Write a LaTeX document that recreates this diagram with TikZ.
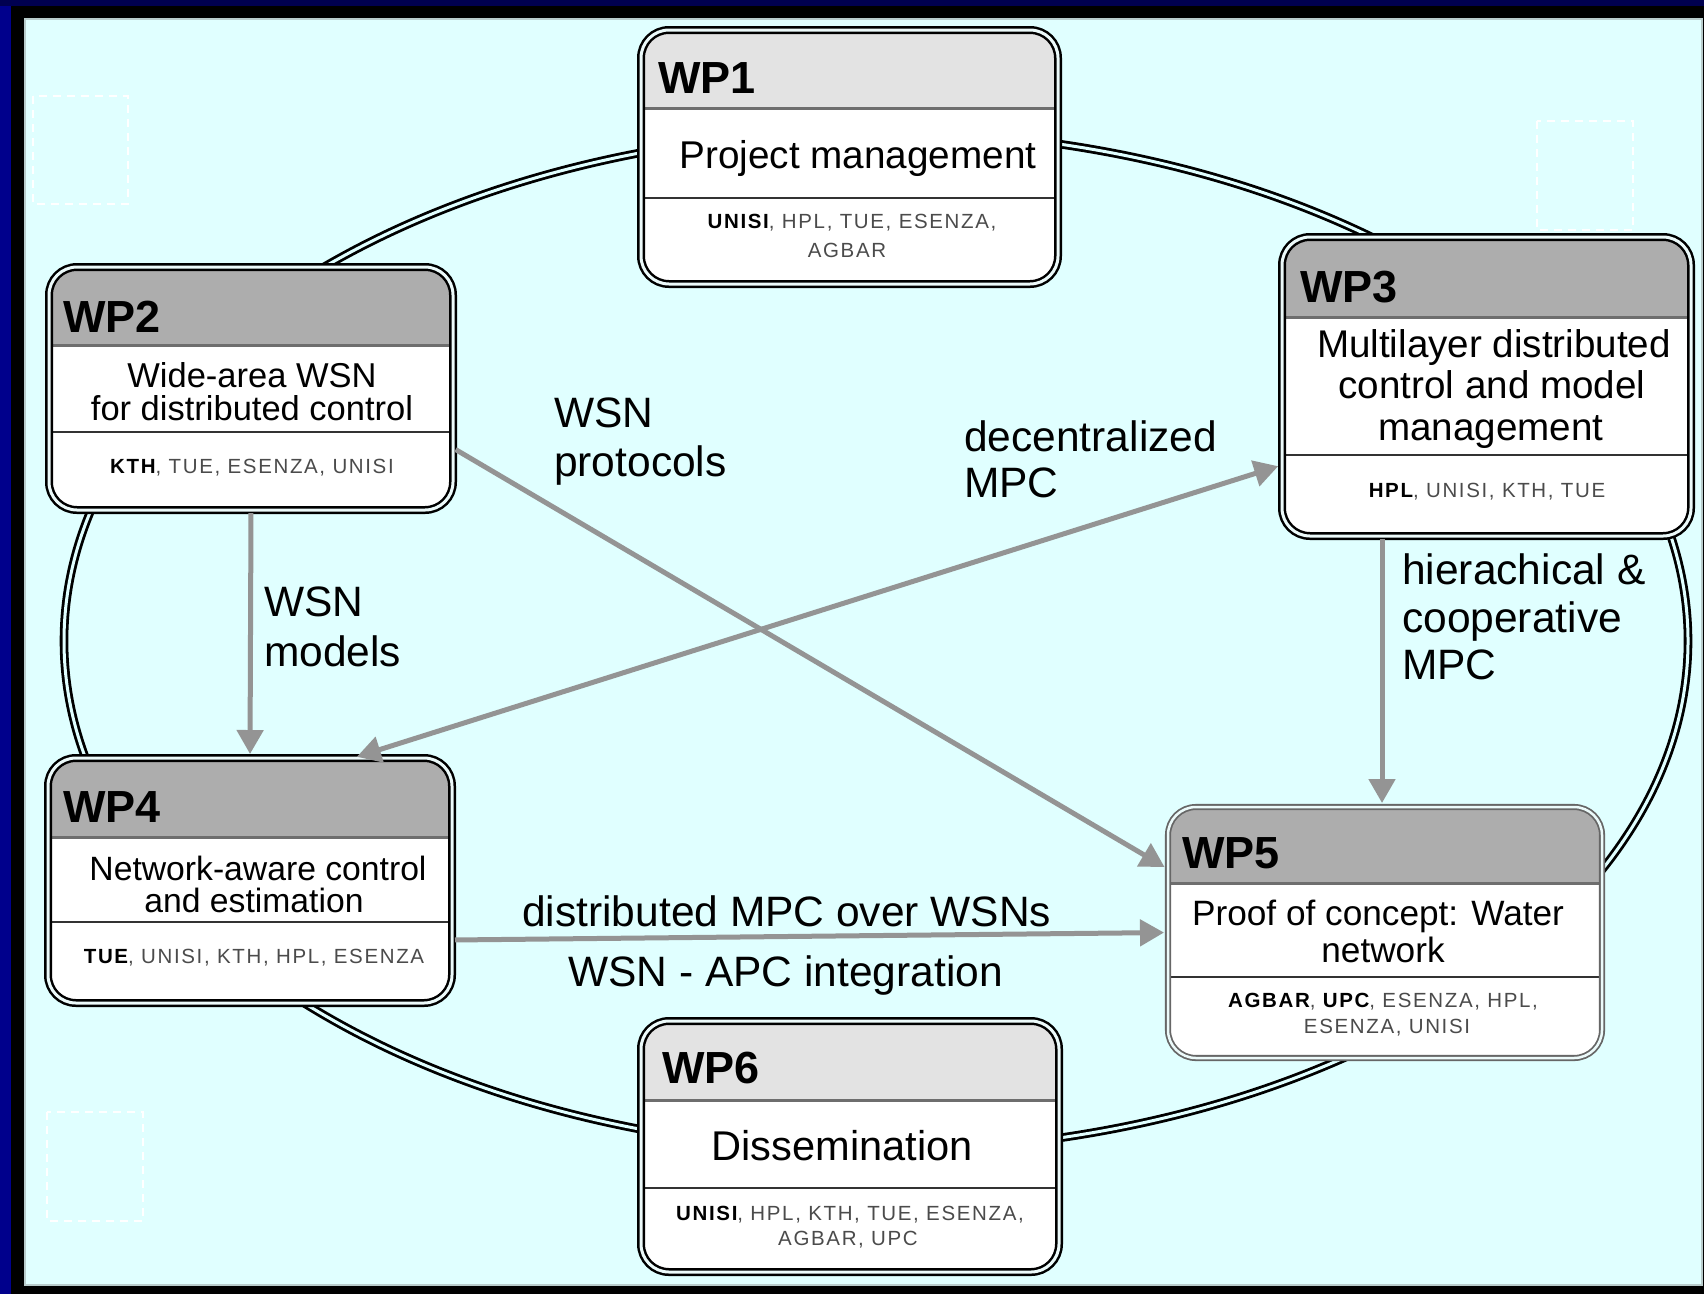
\documentclass[tikz,border=0pt]{standalone}
\usepackage{fontspec}
\setmainfont{Liberation Sans}
\newfontfamily\partfont[LetterSpace=8]{Liberation Sans}
\usetikzlibrary{arrows.meta}
\definecolor{navyA}{RGB}{0,0,140}
\definecolor{navyB}{RGB}{0,0,80}
\definecolor{bgc}{RGB}{224,255,255}
\definecolor{gapc}{RGB}{236,250,250}
\definecolor{hdrlight}{RGB}{227,227,227}
\definecolor{hdrdark}{RGB}{173,173,173}
\definecolor{hdrline}{RGB}{110,110,110}
\definecolor{sepline}{RGB}{50,50,50}
\definecolor{arrgray}{RGB}{148,148,148}
\definecolor{partgray}{RGB}{75,75,75}
\tikzset{
  ring/.style={draw=black, line width=2.8pt, double=bgc, double distance=3pt},
  wpbox/.style n args={5}{draw=black, line width=2.5pt, double=gapc, double distance=3pt,
    rounded corners=28pt, fill=white, outer sep=0pt, inner sep=0pt,
    minimum width=#1, minimum height=#2,
    path picture={
      \fill[#5, sharp corners] (path picture bounding box.north west) rectangle ([yshift=-#3]path picture bounding box.north east);
      \fill[hdrline, sharp corners] ([yshift=-#3+1.5pt]path picture bounding box.north west) rectangle ([yshift=-#3-1.5pt]path picture bounding box.north east);
      \fill[sepline, sharp corners] ([yshift=-#4+1pt]path picture bounding box.north west) rectangle ([yshift=-#4-1pt]path picture bounding box.north east);
    }},
  wptitle/.style={font=\bfseries\fontsize{45}{54}\selectfont, anchor=base west, inner sep=0pt},
  btxt/.style={font=\fontsize{#1}{#1}\selectfont, anchor=base, inner sep=0pt},
  ptxt/.style={font=\partfont\fontsize{20.5}{24}\selectfont, text=partgray, anchor=base, inner sep=0pt},
  lbl/.style={font=\fontsize{42.5}{50}\selectfont, anchor=base west, inner sep=0pt},
  arr/.style={draw=arrgray, line width=5pt, shorten >=4pt, shorten <=3pt, -{Triangle[length=24pt,width=26pt]}},
  arrtwo/.style={draw=arrgray, line width=5pt, shorten >=4pt, shorten <=4pt, {Triangle[length=24pt,width=26pt]}-{Triangle[length=24pt,width=26pt]}},
  dashsq/.style={draw=white, line width=2.5pt, dash pattern=on 8pt off 6pt}
}
\begin{document}
\begin{tikzpicture}[x=1pt,y=-1pt]
\useasboundingbox (0,0) rectangle (1704,1294);
% frame
\fill[navyA] (0,0) rectangle (1704,1294);
\fill[navyB] (0,0) rectangle (1704,6);
\fill[black] (11,6) rectangle (1704,1294);
\filldraw[fill=bgc, draw=bgc!60!gray, line width=1.5pt] (25,19) rectangle (1702,1285);
\draw[dashsq] (33,96) rectangle (128,204);
\draw[dashsq] (47,1112) rectangle (143,1221);
\draw[dashsq] (1537,121) rectangle (1633,230);
% ring
\draw[ring] (876,641) ellipse [x radius=812, y radius=510];
% boxes
\node[wpbox={417pt}{254pt}{78pt}{168pt}{hdrlight}] (wp1) at (849.5,157) {};
\node[wpbox={404pt}{243pt}{78pt}{165pt}{hdrdark}] (wp2) at (251,388.5) {};
\node[wpbox={409pt}{299pt}{80pt}{218pt}{hdrdark}] (wp3) at (1486.5,386.5) {};
\node[wpbox={404pt}{245pt}{79pt}{164pt}{hdrdark}] (wp4) at (250,880.5) {};
\node[wpbox={434pt}{251pt}{76pt}{170pt}{hdrdark}, draw=black!60, line width=1.8pt, double distance=2.5pt] (wp5) at (1385,932.5) {};
\node[wpbox={418pt}{251pt}{79pt}{167pt}{hdrlight}] (wp6) at (850,1146.5) {};
% titles
\node[wptitle] (t1) at (658,93) {WP1};
\node[wptitle] (t2) at (63,332) {WP2};
\node[wptitle] (t3) at (1300,302) {WP3};
\node[wptitle] (t4) at (63,822) {WP4};
\node[wptitle] (t5) at (1182,868) {WP5};
\node[wptitle] (t6) at (662,1083) {WP6};
% box texts
\node[btxt=38.7] (d1) at (858,168) {Project management};
\node[btxt=34.5] (d2a) at (252,387) {Wide-area WSN};
\node[btxt=34.5] (d2b) at (252,420) {for distributed control};
\node[btxt=38.6] (d3a) at (1494,357) {Multilayer distributed};
\node[btxt=38.6] (d3b) at (1492,398) {control and model};
\node[btxt=38.6] (d3c) at (1491,440) {management};
\node[btxt=33.7] (d4a) at (258,880) {Network-aware control};
\node[btxt=33.7] (d4b) at (254,912) {and estimation};
\node[btxt=35.2] (d5a) at (1378,925) {Proof of concept: Water};
\node[btxt=35.2] (d5b) at (1383,962) {network};
\node[btxt=41.6] (d6) at (842,1160) {Dissemination};
% partners
\node[ptxt] (p1a) at (852,228) {\textcolor{black}{\bfseries UNISI}, HPL, TUE, ESENZA,};
\node[ptxt] (p1b) at (847,257) {AGBAR};
\node[ptxt] (p2) at (252,473) {\textcolor{black}{\bfseries KTH}, TUE, ESENZA, UNISI};
\node[ptxt] (p3) at (1487,497) {\textcolor{black}{\bfseries HPL}, UNISI, KTH, TUE};
\node[ptxt] (p4) at (254,963) {\textcolor{black}{\bfseries TUE}, UNISI, KTH, HPL, ESENZA};
\node[ptxt] (p5a) at (1383,1007) {\textcolor{black}{\bfseries AGBAR}, \textcolor{black}{\bfseries UPC}, ESENZA, HPL,};
\node[ptxt] (p5b) at (1387,1033) {ESENZA, UNISI};
\node[ptxt] (p6a) at (850,1220) {\textcolor{black}{\bfseries UNISI}, HPL, KTH, TUE, ESENZA,};
\node[ptxt] (p6b) at (848,1245) {AGBAR, UPC};
% connectors
\coordinate (c35) at (1382,0);
\draw[arr] (wp2.south) -- (wp4.north);
\draw[arr] ([yshift=-59.5pt]wp2.east) -- ([yshift=63.5pt]wp5.west);
\draw[arrtwo] ([xshift=103pt]wp4.north) -- ([yshift=-78.5pt]wp3.west);
\draw[arr] (wp3.south -| c35) -- (wp5.north -| c35);
\draw[arr] ([yshift=-59.5pt]wp4.east) -- (wp5.west);
% labels
\node[lbl] (l1a) at (264,616) {WSN};
\node[lbl] (l1b) at (264,666) {models};
\node[lbl] (l2a) at (554,427) {WSN};
\node[lbl] (l2b) at (554,476) {protocols};
\node[lbl] (l3a) at (964,451) {decentralized};
\node[lbl] (l3b) at (964,497) {MPC};
\node[lbl] (l4a) at (1402,584) {hierachical \&};
\node[lbl] (l4b) at (1402,632) {cooperative};
\node[lbl] (l4c) at (1402,679) {MPC};
\node[lbl] (l5a) at (522,926) {distributed MPC over WSNs};
\node[lbl] (l5b) at (568,986) {WSN - APC integration};
\end{tikzpicture}
\end{document}
